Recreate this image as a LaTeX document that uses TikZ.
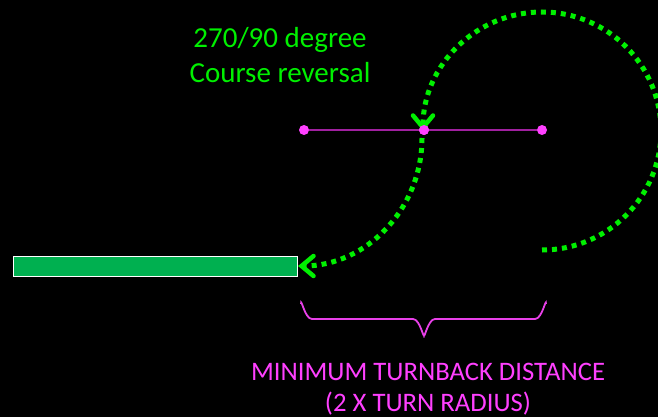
\documentclass[tikz,border=0pt]{standalone}
\usepackage{fontspec}
\setmainfont{Carlito}
\usetikzlibrary{arrows.meta}
\definecolor{brightgreen}{HTML}{00F000}
\definecolor{officegreen}{HTML}{00B050}
\definecolor{magentatxt}{HTML}{FF40FF}
\definecolor{bracemag}{HTML}{E840E8}
\definecolor{linepurple}{HTML}{A0209F}
\tikzset{
  pathdots/.style={brightgreen, line width=5pt, dash pattern=on 5pt off 5pt},
  vtip/.style={-{Straight Barb[length=12pt,width=20pt,line width=4.5pt,line cap=round]}},
  pinkdot/.style={circle, fill=magentatxt, inner sep=0pt, minimum size=10pt},
  greentext/.style={text=brightgreen, font=\fontsize{29}{35}\selectfont, align=center},
  magtext/.style={text=magentatxt, font=\fontsize{26.7}{32}\selectfont, align=center},
}
\begin{document}
\begin{tikzpicture}[x=1pt,y=-1pt]
\useasboundingbox[fill=black] (0,0) rectangle (658,417);
% runway
\node[draw=white, line width=1.3pt, fill=officegreen, minimum width=284pt, minimum height=20pt, inner sep=0pt, anchor=north west] (runway) at (13,256) {};
% pink line with dots
\node[pinkdot] (d1) at (304,130) {};
\node[pinkdot] (d2) at (424,130) {};
\node[pinkdot] (d3) at (542,130) {};
\draw[linepurple, line width=2pt] (d1) -- (d2) -- (d3);
% arcs
\coordinate (arcstart) at (542,250);
\coordinate (arc2start) at (422,138);
\draw[pathdots, vtip] (arcstart) arc[start angle=-90, end angle=180, radius=119pt];
\draw[pathdots, vtip] (arc2start) arc[start angle=0, end angle=-90, x radius=124pt, y radius=128pt];
\node[pinkdot] at (d2) {};
% brace
\draw[bracemag, line width=1.8pt] (301,304) to[out=90,in=180] (312,319) -- (413,319) to[out=0,in=-90] (424,334)
  (424,334) to[out=-90,in=180] (435,319) -- (535,319) to[out=0,in=90] (546,304);
% texts
\node[greentext, anchor=base] (t1) at (280,48) {270/90 degree};
\node[greentext, anchor=base] (t2) at (280,83) {Course reversal};
\node[magtext, anchor=base] (b1) at (428,380) {MINIMUM TURNBACK DISTANCE};
\node[magtext, anchor=base] (b2) at (428,411) {(2 X TURN RADIUS)};
\end{tikzpicture}
\end{document}
